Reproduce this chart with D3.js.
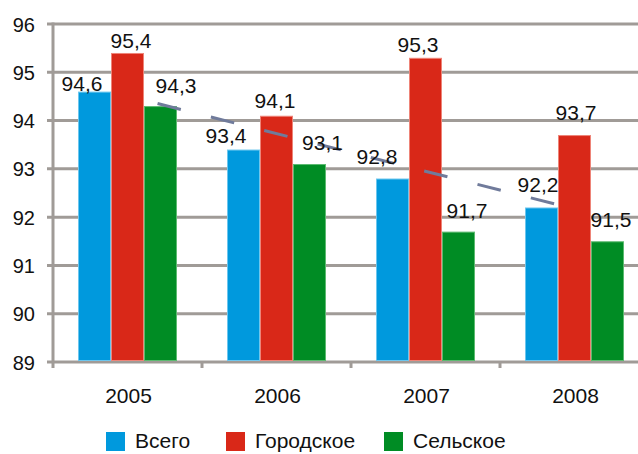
<!DOCTYPE html>
<html>
<head>
<meta charset="utf-8">
<script src="https://cdn.jsdelivr.net/npm/d3@7"></script>
<style>
  html, body { margin: 0; padding: 0; background: #fff; }
  svg { display: block; font-family: "Liberation Sans", Arial, sans-serif; }
</style>
</head>
<body>
<svg id="chart" width="638" height="454"></svg>
<script>
// Years on the category axis
const years = ["2005", "2006", "2007", "2008"];
// Share values per group, %
const vsego = [94.6, 93.4, 92.8, 92.2];
const gorodskoe = [95.4, 94.1, 95.3, 93.7];
const selskoe = [94.3, 93.1, 91.7, 91.5];
// Linear trend for "Всего": value at the first and at the last year
const trendEnds = [94.51, 92.17];
// Value-axis ticks
const yTicks = [89, 90, 91, 92, 93, 94, 95, 96];

const seriesNames = ["Всего", "Городское", "Сельское"];
const seriesValues = [vsego, gorodskoe, selskoe];
const colors = ["#0099dd", "#d92818", "#008c24"];
const edgeColors = ["#6cc6ee", "#ee8478", "#5cba70"];

// Hand placement of value labels relative to the top centre of each bar [dx, dy]
const labelNudge = [
  [[-12.5, -0.6], [-17.5, -6.6], [-15.5, -14.5], [-3.5, -15.5]],
  [[3.5, -5], [-1.5, -8], [-7.5, -6], [1.5, -15]],
  [[15.5, -13], [13, -14], [8.5, -13.6], [3.5, -14]]
];

const svg = d3.select("#chart");
const gridColor = "#a09b97";

const x = d3.scaleBand().domain(years).range([53, 649]).padding(0);
const y = d3.scaleLinear().domain([89, 96]).range([362, 24]);
const barW = 33;
const xs = d3.scaleBand().domain(d3.range(3)).range([-49.5, 49.5]).padding(0);

// Horizontal gridlines, extended left into tick marks
svg.append("g").selectAll("line").data(yTicks).join("line")
  .attr("x1", 47).attr("x2", 638)
  .attr("y1", d => y(d)).attr("y2", d => y(d))
  .attr("stroke", gridColor).attr("stroke-width", 3);

// Value axis line
svg.append("line")
  .attr("x1", 53).attr("x2", 53)
  .attr("y1", y(96) - 1.5).attr("y2", y(89) + 6)
  .attr("stroke", gridColor).attr("stroke-width", 3);

// Category boundary ticks below the axis
svg.append("g").selectAll("line").data(years.slice(1)).join("line")
  .attr("x1", d => x(d)).attr("x2", d => x(d))
  .attr("y1", y(89)).attr("y2", y(89) + 6)
  .attr("stroke", gridColor).attr("stroke-width", 3);

// Value axis labels
svg.append("g").selectAll("text").data(yTicks).join("text")
  .attr("x", 35).attr("y", d => y(d) + 7.5)
  .attr("text-anchor", "end")
  .attr("font-size", 20).attr("fill", "#111")
  .text(d => d);

// Category labels
svg.append("g").selectAll("text").data(years).join("text")
  .attr("x", d => x(d) + x.bandwidth() / 2 + 1)
  .attr("y", 403)
  .attr("text-anchor", "middle")
  .attr("font-size", 21).attr("fill", "#111")
  .text(d => d);

// Bars
const bars = [];
seriesValues.forEach((vals, s) => {
  vals.forEach((v, i) => {
    bars.push({ s, i, v, cx: x(years[i]) + x.bandwidth() / 2 + xs(s) + barW / 2 });
  });
});

svg.append("g").selectAll("rect").data(bars).join("rect")
  .attr("x", d => d.cx - barW / 2 + 0.5)
  .attr("y", d => y(d.v) + 0.5)
  .attr("width", barW - 1)
  .attr("height", d => y(89) - y(d.v) - 2)
  .attr("fill", d => colors[d.s])
  .attr("stroke", d => edgeColors[d.s])
  .attr("stroke-width", 1);

// Dashed trend line over the bars
const cx0 = x(years[0]) + x.bandwidth() / 2;
const cx1 = x(years[years.length - 1]) + x.bandwidth() / 2;
svg.append("line")
  .attr("x1", cx0).attr("y1", y(trendEnds[0]))
  .attr("x2", cx1).attr("y2", y(trendEnds[1]))
  .attr("stroke", "#707b9b").attr("stroke-width", 3)
  .attr("stroke-dasharray", "24,31").attr("stroke-dashoffset", 24);

// Value labels
svg.append("g").selectAll("text").data(bars).join("text")
  .attr("x", d => d.cx + labelNudge[d.s][d.i][0])
  .attr("y", d => y(d.v) + labelNudge[d.s][d.i][1])
  .attr("text-anchor", "middle")
  .attr("font-size", 21).attr("fill", "#111")
  .text(d => d3.format(".1f")(d.v).replace(".", ","));

// Legend
const legendPos = [106, 226, 384];
const lg = svg.append("g").selectAll("g").data(seriesNames).join("g")
  .attr("transform", (d, i) => `translate(${legendPos[i]},432)`);
lg.append("rect").attr("width", 19).attr("height", 19)
  .attr("fill", (d, i) => colors[i]);
lg.append("text").attr("x", 29).attr("y", 16)
  .attr("font-size", 21).attr("fill", "#111")
  .text(d => d);
</script>
</body>
</html>
